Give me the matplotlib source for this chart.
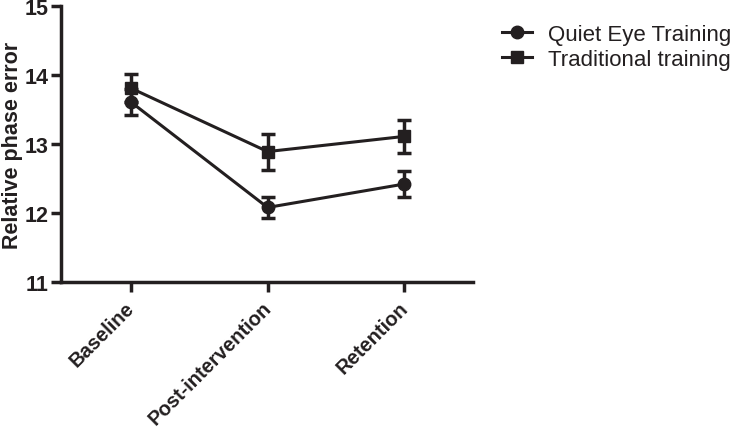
import matplotlib
matplotlib.use("Agg")
import matplotlib.pyplot as plt
import matplotlib.transforms as mtransforms

categories = ["Baseline", "Post-intervention", "Retention"]
qe_mean = [13.61, 12.08, 12.42]
qe_err = [0.19, 0.15, 0.19]
trad_mean = [13.81, 12.89, 13.11]
trad_err = [0.20, 0.26, 0.24]
series_names = ["Quiet Eye Training", "Traditional training"]

plt.rcParams['font.family'] = ['Liberation Sans', 'DejaVu Sans']
col = "#231f20"

fig = plt.figure(figsize=(7.33, 4.31), dpi=100)
ax = fig.add_axes([0.0832, 0.3434, 0.5618, 0.6404])
x = list(range(len(categories)))
h1 = ax.errorbar(x, qe_mean, yerr=qe_err, color=col, marker='o', markersize=9,
                 lw=2.2, elinewidth=2.5, capsize=5, capthick=2.5, label=series_names[0])
h2 = ax.errorbar(x, trad_mean, yerr=trad_err, color=col, marker='s', markersize=9,
                 lw=2.2, elinewidth=2.5, capsize=5, capthick=2.5, label=series_names[1])
ax.set_xlim(-0.51, 2.5)
ax.set_ylim(11, 15)
ax.tick_params(axis='both', width=2.5, length=7, color=col, pad=2)
ax.set_yticks([11, 12, 13, 14, 15])
ax.set_xticks(x)
ax.set_xticklabels(categories, rotation=45, ha='right', rotation_mode='anchor',
                   fontsize=14.5, fontweight='bold', color=col)
offset = mtransforms.ScaledTranslation(-0.06, -0.03, fig.dpi_scale_trans)
for t in ax.xaxis.get_major_ticks():
    t.label1.set_transform(t.label1.get_transform() + offset)
for lab in ax.get_yticklabels():
    lab.set_fontsize(15.5)
    lab.set_fontweight('bold')
    lab.set_color(col)
ax.set_ylabel("Relative phase error", fontsize=15.5, fontweight='bold', color=col, va='center')
ax.yaxis.set_label_coords(-0.117, 0.5)
for s in ['top', 'right']:
    ax.spines[s].set_visible(False)
for s in ['left', 'bottom']:
    ax.spines[s].set_linewidth(2.5)
    ax.spines[s].set_color(col)

leg_handles = [plt.Line2D([], [], color=col, marker='o', markersize=9, lw=2.2),
               plt.Line2D([], [], color=col, marker='s', markersize=9, lw=2.2)]
fig.legend(leg_handles, series_names, loc='upper left', bbox_to_anchor=(0.685, 0.943),
           frameon=False, fontsize=16, handlelength=1.35, handletextpad=0.72,
           labelspacing=0.2, borderpad=0, borderaxespad=0, labelcolor=col)
fig.savefig("out.png", dpi=100)
